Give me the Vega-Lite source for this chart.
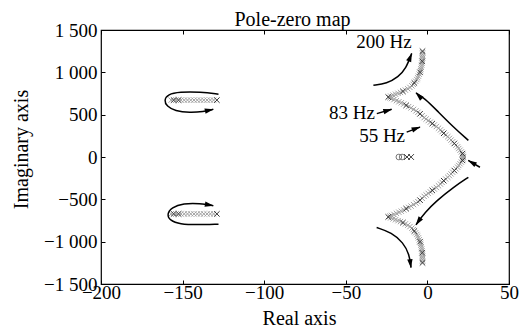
{
  "$schema": "https://vega.github.io/schema/vega-lite/v6.json",
  "width": 408,
  "height": 254,
  "autosize": "none",
  "padding": {"left": 101, "top": 30, "right": 16, "bottom": 45},
  "background": "white",
  "config": {
    "font": "Liberation Serif",
    "view": {"stroke": "black", "strokeWidth": 1.2},
    "axis": {
      "domain": false, "grid": false, "ticks": true, "tickSize": -4, "tickColor": "black", "tickWidth": 1,
      "labelFont": "Liberation Serif", "labelFontSize": 19, "labelColor": "black", "labelFlush": false, "labelOverlap": false, "labelBound": false,
      "titleFont": "Liberation Serif", "titleFontSize": 20, "titleFontWeight": "normal", "titleColor": "black"
    }
  },
  "datasets": {
    "poles": [
      {"re": 22, "im": 5, "kind": "trace"}, {"re": 20, "im": 80, "kind": "trace"}, {"re": 18.5, "im": 120, "kind": "trace"},
      {"re": 14.5, "im": 200, "kind": "trace"}, {"re": 12.5, "im": 240, "kind": "trace"}, {"re": 8, "im": 320, "kind": "trace"},
      {"re": 5.5, "im": 360, "kind": "trace"}, {"re": 0.5, "im": 430, "kind": "trace"}, {"re": -2, "im": 465, "kind": "trace"},
      {"re": -7, "im": 545, "kind": "trace"}, {"re": -10, "im": 580, "kind": "trace"}, {"re": -16, "im": 640, "kind": "trace"},
      {"re": -19, "im": 665, "kind": "trace"}, {"re": -22, "im": 690, "kind": "trace"}, {"re": -21, "im": 730, "kind": "trace"},
      {"re": -18, "im": 752, "kind": "trace"}, {"re": -12, "im": 805, "kind": "trace"}, {"re": -9.5, "im": 840, "kind": "trace"},
      {"re": -6.5, "im": 915, "kind": "trace"}, {"re": -5.5, "im": 955, "kind": "trace"}, {"re": -4, "im": 1040, "kind": "trace"},
      {"re": -3.5, "im": 1085, "kind": "trace"}, {"re": -3, "im": 1170, "kind": "trace"}, {"re": -3, "im": 1210, "kind": "trace"},
      {"re": 21.8, "im": 22, "kind": "trace"}, {"re": 20.8, "im": 60, "kind": "trace"}, {"re": 19.2, "im": 100, "kind": "trace"},
      {"re": 17.5, "im": 140, "kind": "trace"}, {"re": 15.5, "im": 180, "kind": "trace"}, {"re": 13.5, "im": 220, "kind": "trace"},
      {"re": 11.2, "im": 260, "kind": "trace"}, {"re": 9, "im": 300, "kind": "trace"}, {"re": 6.8, "im": 340, "kind": "trace"},
      {"re": 4.2, "im": 378, "kind": "trace"}, {"re": 1.8, "im": 412, "kind": "trace"}, {"re": -0.8, "im": 448, "kind": "trace"},
      {"re": -3.2, "im": 488, "kind": "trace"}, {"re": -5.8, "im": 528, "kind": "trace"}, {"re": -8.5, "im": 562, "kind": "trace"},
      {"re": -11.5, "im": 595, "kind": "trace"}, {"re": -14.5, "im": 625, "kind": "trace"}, {"re": -17.5, "im": 652, "kind": "trace"},
      {"re": -20.5, "im": 678, "kind": "trace"}, {"re": -23, "im": 699, "kind": "trace"}, {"re": -22.5, "im": 719, "kind": "trace"},
      {"re": -19.5, "im": 741, "kind": "trace"}, {"re": -16.5, "im": 763, "kind": "trace"}, {"re": -13.5, "im": 790, "kind": "trace"},
      {"re": -10.7, "im": 822, "kind": "trace"}, {"re": -8.7, "im": 858, "kind": "trace"}, {"re": -7.2, "im": 895, "kind": "trace"},
      {"re": -6, "im": 935, "kind": "trace"}, {"re": -5, "im": 978, "kind": "trace"}, {"re": -4.2, "im": 1020, "kind": "trace"},
      {"re": -3.7, "im": 1062, "kind": "trace"}, {"re": -3.3, "im": 1108, "kind": "trace"}, {"re": -3.1, "im": 1150, "kind": "trace"},
      {"re": -3, "im": 1190, "kind": "trace"}, {"re": -3, "im": 1230, "kind": "trace"},
      {"re": 22, "im": -5, "kind": "trace"}, {"re": 20, "im": -80, "kind": "trace"}, {"re": 18.5, "im": -120, "kind": "trace"},
      {"re": 14.5, "im": -200, "kind": "trace"}, {"re": 12.5, "im": -240, "kind": "trace"}, {"re": 8, "im": -320, "kind": "trace"},
      {"re": 5.5, "im": -360, "kind": "trace"}, {"re": 0.5, "im": -430, "kind": "trace"}, {"re": -2, "im": -465, "kind": "trace"},
      {"re": -7, "im": -545, "kind": "trace"}, {"re": -10, "im": -580, "kind": "trace"}, {"re": -16, "im": -640, "kind": "trace"},
      {"re": -19, "im": -665, "kind": "trace"}, {"re": -22, "im": -690, "kind": "trace"}, {"re": -21, "im": -730, "kind": "trace"},
      {"re": -18, "im": -752, "kind": "trace"}, {"re": -12, "im": -805, "kind": "trace"}, {"re": -9.5, "im": -840, "kind": "trace"},
      {"re": -6.5, "im": -915, "kind": "trace"}, {"re": -5.5, "im": -955, "kind": "trace"}, {"re": -4, "im": -1040, "kind": "trace"},
      {"re": -3.5, "im": -1085, "kind": "trace"}, {"re": -3, "im": -1170, "kind": "trace"}, {"re": -3, "im": -1210, "kind": "trace"},
      {"re": 21.8, "im": -22, "kind": "trace"}, {"re": 20.8, "im": -60, "kind": "trace"}, {"re": 19.2, "im": -100, "kind": "trace"},
      {"re": 17.5, "im": -140, "kind": "trace"}, {"re": 15.5, "im": -180, "kind": "trace"}, {"re": 13.5, "im": -220, "kind": "trace"},
      {"re": 11.2, "im": -260, "kind": "trace"}, {"re": 9, "im": -300, "kind": "trace"}, {"re": 6.8, "im": -340, "kind": "trace"},
      {"re": 4.2, "im": -378, "kind": "trace"}, {"re": 1.8, "im": -412, "kind": "trace"}, {"re": -0.8, "im": -448, "kind": "trace"},
      {"re": -3.2, "im": -488, "kind": "trace"}, {"re": -5.8, "im": -528, "kind": "trace"}, {"re": -8.5, "im": -562, "kind": "trace"},
      {"re": -11.5, "im": -595, "kind": "trace"}, {"re": -14.5, "im": -625, "kind": "trace"}, {"re": -17.5, "im": -652, "kind": "trace"},
      {"re": -20.5, "im": -678, "kind": "trace"}, {"re": -23, "im": -699, "kind": "trace"}, {"re": -22.5, "im": -719, "kind": "trace"},
      {"re": -19.5, "im": -741, "kind": "trace"}, {"re": -16.5, "im": -763, "kind": "trace"}, {"re": -13.5, "im": -790, "kind": "trace"},
      {"re": -10.7, "im": -822, "kind": "trace"}, {"re": -8.7, "im": -858, "kind": "trace"}, {"re": -7.2, "im": -895, "kind": "trace"},
      {"re": -6, "im": -935, "kind": "trace"}, {"re": -5, "im": -978, "kind": "trace"}, {"re": -4.2, "im": -1020, "kind": "trace"},
      {"re": -3.7, "im": -1062, "kind": "trace"}, {"re": -3.3, "im": -1108, "kind": "trace"}, {"re": -3.1, "im": -1150, "kind": "trace"},
      {"re": -3, "im": -1190, "kind": "trace"}, {"re": -3, "im": -1230, "kind": "trace"},
      {"re": -157, "im": 672, "kind": "trace"}, {"re": -154, "im": 672, "kind": "trace"}, {"re": -151, "im": 672, "kind": "trace"},
      {"re": -149, "im": 672, "kind": "trace"}, {"re": -147, "im": 672, "kind": "trace"}, {"re": -145, "im": 672, "kind": "trace"},
      {"re": -143, "im": 672, "kind": "trace"}, {"re": -141, "im": 672, "kind": "trace"}, {"re": -139, "im": 672, "kind": "trace"},
      {"re": -137, "im": 672, "kind": "trace"}, {"re": -135, "im": 672, "kind": "trace"}, {"re": -133, "im": 672, "kind": "trace"},
      {"re": -131, "im": 672, "kind": "trace"}, {"re": -157, "im": -672, "kind": "trace"}, {"re": -154, "im": -672, "kind": "trace"},
      {"re": -151, "im": -672, "kind": "trace"}, {"re": -149, "im": -672, "kind": "trace"}, {"re": -147, "im": -672, "kind": "trace"},
      {"re": -145, "im": -672, "kind": "trace"}, {"re": -143, "im": -672, "kind": "trace"}, {"re": -141, "im": -672, "kind": "trace"},
      {"re": -139, "im": -672, "kind": "trace"}, {"re": -137, "im": -672, "kind": "trace"}, {"re": -135, "im": -672, "kind": "trace"},
      {"re": -133, "im": -672, "kind": "trace"}, {"re": -131, "im": -672, "kind": "trace"},
      {"re": 21.5, "im": 40, "kind": "marked"}, {"re": 16.5, "im": 160, "kind": "marked"}, {"re": 10, "im": 280, "kind": "marked"},
      {"re": 3, "im": 395, "kind": "marked"}, {"re": -4.5, "im": 510, "kind": "marked"}, {"re": -13, "im": 610, "kind": "marked"},
      {"re": -24, "im": 708, "kind": "marked"}, {"re": -15, "im": 775, "kind": "marked"}, {"re": -8, "im": 875, "kind": "marked"},
      {"re": -4.5, "im": 1000, "kind": "marked"}, {"re": -3.2, "im": 1130, "kind": "marked"}, {"re": -3, "im": 1250, "kind": "marked"},
      {"re": 21.5, "im": -40, "kind": "marked"}, {"re": 16.5, "im": -160, "kind": "marked"}, {"re": 10, "im": -280, "kind": "marked"},
      {"re": 3, "im": -395, "kind": "marked"}, {"re": -4.5, "im": -510, "kind": "marked"}, {"re": -13, "im": -610, "kind": "marked"},
      {"re": -24, "im": -708, "kind": "marked"}, {"re": -15, "im": -775, "kind": "marked"}, {"re": -8, "im": -875, "kind": "marked"},
      {"re": -4.5, "im": -1000, "kind": "marked"}, {"re": -3.2, "im": -1130, "kind": "marked"}, {"re": -3, "im": -1250, "kind": "marked"},
      {"re": -155.5, "im": 672, "kind": "marked"}, {"re": -152.5, "im": 672, "kind": "marked"}, {"re": -129, "im": 672, "kind": "marked"},
      {"re": -155.5, "im": -672, "kind": "marked"}, {"re": -152.5, "im": -672, "kind": "marked"}, {"re": -129, "im": -672, "kind": "marked"},
      {"re": -17.5, "im": 0, "kind": "zero"}, {"re": -15.5, "im": 0, "kind": "zero"},
      {"re": -12.5, "im": 0, "kind": "small"}, {"re": -10, "im": 0, "kind": "small"}
    ],
    "arrows": [
      {"id": "L1", "seq": 1, "re": -128, "im": 741}, {"id": "L1", "seq": 2, "re": -139, "im": 769}, {"id": "L1", "seq": 3, "re": -152, "im": 769},
      {"id": "L1", "seq": 4, "re": -159, "im": 741}, {"id": "L1", "seq": 5, "re": -161.4, "im": 670}, {"id": "L1", "seq": 6, "re": -159.7, "im": 599},
      {"id": "L1", "seq": 7, "re": -154.7, "im": 543}, {"id": "L1", "seq": 8, "re": -145.5, "im": 524}, {"id": "L1", "seq": 9, "re": -137.3, "im": 536},
      {"id": "L1", "seq": 10, "re": -131.2, "im": 563},
      {"id": "L2", "seq": 1, "re": -128, "im": -793}, {"id": "L2", "seq": 2, "re": -141.4, "im": -801}, {"id": "L2", "seq": 3, "re": -151.6, "im": -793},
      {"id": "L2", "seq": 4, "re": -157.7, "im": -753}, {"id": "L2", "seq": 5, "re": -159.7, "im": -674}, {"id": "L2", "seq": 6, "re": -156.7, "im": -595},
      {"id": "L2", "seq": 7, "re": -149.6, "im": -548}, {"id": "L2", "seq": 8, "re": -139.3, "im": -548}, {"id": "L2", "seq": 9, "re": -131.2, "im": -575},
      {"id": "A", "seq": 1, "re": -33.1, "im": 848}, {"id": "A", "seq": 2, "re": -24.9, "im": 868}, {"id": "A", "seq": 3, "re": -17.8, "im": 947},
      {"id": "A", "seq": 4, "re": -13.1, "im": 1046}, {"id": "A", "seq": 5, "re": -9.6, "im": 1224},
      {"id": "B", "seq": 1, "re": 25.1, "im": 196}, {"id": "B", "seq": 2, "re": 15.9, "im": 354}, {"id": "B", "seq": 3, "re": 5.7, "im": 552},
      {"id": "B", "seq": 4, "re": -1.5, "im": 690}, {"id": "B", "seq": 5, "re": -7, "im": 757},
      {"id": "C", "seq": 1, "re": 32.2, "im": -121}, {"id": "C", "seq": 2, "re": 25, "im": -41},
      {"id": "D", "seq": 1, "re": 25.1, "im": -240}, {"id": "D", "seq": 2, "re": 15.9, "im": -358}, {"id": "D", "seq": 3, "re": 5.7, "im": -516},
      {"id": "D", "seq": 4, "re": -1.5, "im": -655}, {"id": "D", "seq": 5, "re": -7, "im": -801},
      {"id": "E", "seq": 1, "re": -31.1, "im": -833}, {"id": "E", "seq": 2, "re": -21.9, "im": -892}, {"id": "E", "seq": 3, "re": -14.8, "im": -1011},
      {"id": "E", "seq": 4, "re": -11.1, "im": -1148}, {"id": "E", "seq": 5, "re": -10, "im": -1307},
      {"id": "F83", "seq": 1, "re": -31, "im": 512}, {"id": "F83", "seq": 2, "re": -21.9, "im": 563},
      {"id": "F55", "seq": 1, "re": -12.7, "im": 294}, {"id": "F55", "seq": 2, "re": -4.5, "im": 353}
    ],
    "heads": [
      {"id": "L1", "re": -133.6, "im": 553, "heading": 77},
      {"id": "L2", "re": -133.6, "im": -567, "heading": 100},
      {"id": "A", "re": -10.5, "im": 1180, "heading": 21},
      {"id": "B", "re": -5.3, "im": 724, "heading": 315},
      {"id": "C", "re": 27.2, "im": -65, "heading": 300},
      {"id": "D", "re": -5.6, "im": -762, "heading": 215},
      {"id": "E", "re": -10.4, "im": -1260, "heading": 173},
      {"id": "F83", "re": -24.2, "im": 550, "heading": 74},
      {"id": "F55", "re": -6.8, "im": 337, "heading": 69}
    ],
    "labels": [
      {"text": "200 Hz", "re": -9.6, "im": 1283},
      {"text": "83 Hz", "re": -32.1, "im": 453},
      {"text": "55 Hz", "re": -13.7, "im": 176}
    ]
  },
  "layer": [
    {
      "mark": {"type": "rule", "color": "black", "strokeWidth": 1.2},
      "encoding": {"y": {"datum": 0, "type": "quantitative", "scale": {"domain": [-1500, 1500], "nice": false, "zero": false}, "axis": null}}
    },
    {
      "mark": {"type": "rule", "color": "black", "strokeWidth": 1.2},
      "encoding": {"x": {"datum": 0, "type": "quantitative", "scale": {"domain": [-200, 50], "nice": false, "zero": false}, "axis": null}}
    },
    {
      "data": {"name": "poles"},
      "mark": {"type": "point", "filled": false, "strokeWidth": 1, "opacity": 1},
      "encoding": {
        "x": {"field": "re", "type": "quantitative", "scale": {"domain": [-200, 50], "nice": false, "zero": false},
              "axis": {"orient": "bottom", "title": "Real axis", "values": [-200, -150, -100, -50, 0, 50], "labelPadding": 3, "titlePadding": 6, "titleX": 198,
                       "labelExpr": "replace(format(datum.value, ','), ',', ' ')"}},
        "y": {"field": "im", "type": "quantitative", "scale": {"domain": [-1500, 1500], "nice": false, "zero": false},
              "axis": {"orient": "left", "title": "Imaginary axis", "values": [-1500, -1000, -500, 0, 500, 1000, 1500], "labelPadding": 8, "titlePadding": 1, "titleY": 119, "titleX": -70,
                       "labelExpr": "replace(format(datum.value, ','), ',', ' ')"}},
        "shape": {"field": "kind", "type": "nominal", "legend": null,
                  "scale": {"domain": ["trace", "marked", "zero", "small"], "range": ["M-1,-1L1,1M1,-1L-1,1", "M-1,-1L1,1M1,-1L-1,1", "circle", "M-1,-1L1,1M1,-1L-1,1"]}},
        "color": {"field": "kind", "type": "nominal", "legend": null,
                  "scale": {"domain": ["trace", "marked", "zero", "small"], "range": ["#a0a0a0", "#333333", "#777777", "#444444"]}},
        "size": {"field": "kind", "type": "nominal", "legend": null,
                 "scale": {"domain": ["trace", "marked", "zero", "small"], "range": [28, 34, 10, 12]}}
      }
    },
    {
      "data": {"name": "arrows"},
      "mark": {"type": "line", "color": "black", "strokeWidth": 1.5, "interpolate": "basis"},
      "encoding": {
        "x": {"field": "re", "type": "quantitative", "scale": {"domain": [-200, 50], "nice": false, "zero": false},
              "axis": {"orient": "top", "title": "Pole-zero map", "titleFontSize": 20, "titleBaseline": "alphabetic", "titleX": 191, "titleY": -5, "titleAlign": "center", "labels": false, "values": [-200, -150, -100, -50, 0, 50]}},
        "y": {"field": "im", "type": "quantitative", "scale": {"domain": [-1500, 1500], "nice": false, "zero": false},
              "axis": {"orient": "right", "title": null, "labels": false, "values": [-1500, -1000, -500, 0, 500, 1000, 1500]}},
        "detail": {"field": "id", "type": "nominal"},
        "order": {"field": "seq", "type": "quantitative"}
      }
    },
    {
      "data": {"name": "heads"},
      "mark": {"type": "point", "filled": true, "color": "black", "opacity": 1, "shape": "M0,-1L0.6,1L-0.6,1Z", "size": 80},
      "encoding": {
        "x": {"field": "re", "type": "quantitative", "axis": null},
        "y": {"field": "im", "type": "quantitative", "axis": null},
        "angle": {"field": "heading", "type": "quantitative", "scale": null}
      }
    },
    {
      "data": {"name": "labels"},
      "mark": {"type": "text", "align": "right", "baseline": "alphabetic", "fontSize": 19, "font": "Liberation Serif", "color": "black"},
      "encoding": {
        "x": {"field": "re", "type": "quantitative", "axis": null},
        "y": {"field": "im", "type": "quantitative", "axis": null},
        "text": {"field": "text", "type": "nominal"}
      }
    }
  ],
  "resolve": {"axis": {"x": "independent", "y": "independent"}}
}
